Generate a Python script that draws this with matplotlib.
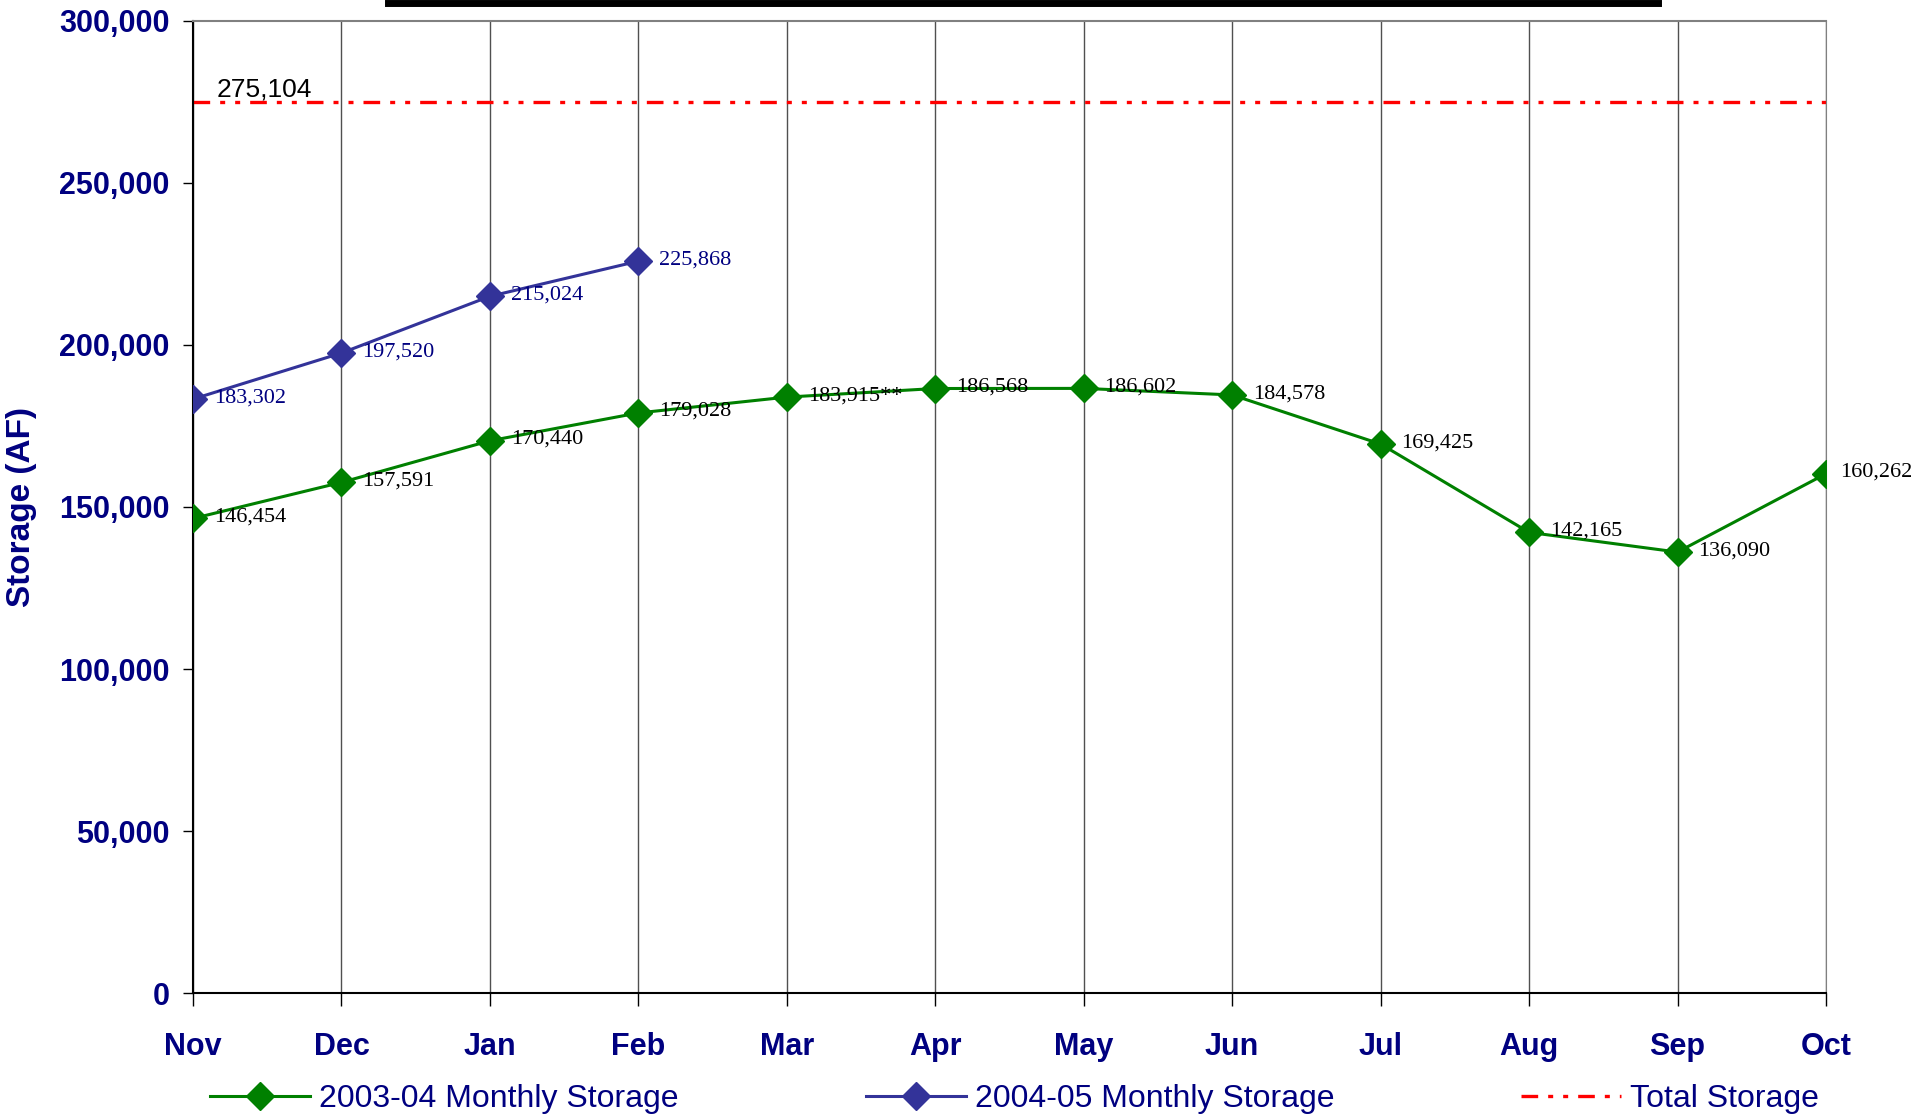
import matplotlib
matplotlib.use('Agg')
import matplotlib.pyplot as plt
from matplotlib.lines import Line2D

months=['Nov','Dec','Jan','Feb','Mar','Apr','May','Jun','Jul','Aug','Sep','Oct']
storage_0304=[146454,157591,170440,179028,183915,186568,186602,184578,169425,142165,136090,160262]
labels_0304=['146,454','157,591','170,440','179,028','183,915**','186,568','186,602','184,578','169,425','142,165','136,090','160,262']
storage_0405=[183302,197520,215024,225868]
labels_0405=['183,302','197,520','215,024','225,868']
total_storage=275104

navy='#000080'
green='#008000'
blue='#333399'

fig=plt.figure(figsize=(19.11,11.15),dpi=100)
ax=fig.add_axes([0.101,0.1094,0.8545,0.8718])

x=list(range(len(months)))
for xi in x:
    ax.axvline(xi,color='#505050',lw=1,zorder=1)

ax.axhline(total_storage,color='red',lw=2.4,ls=(0,(5,3,1.5,3,1.5,3)),zorder=2,label='Total Storage')
l1,=ax.plot(x,storage_0304,color=green,lw=2.2,marker='D',ms=14,zorder=3,label='2003-04 Monthly Storage')
l2,=ax.plot(x[:len(storage_0405)],storage_0405,color=blue,lw=2.2,marker='D',ms=14,zorder=3,label='2004-05 Monthly Storage')

for xi,v,t in zip(x,storage_0304,labels_0304):
    dx=10 if xi==x[-1] else 15
    ax.annotate(t,(xi,v),xytext=(dx,1),textcoords='offset points',va='center',ha='left',
                family='Liberation Serif',fontsize=16,color='black')
for xi,v,t in zip(x,storage_0405,labels_0405):
    ax.annotate(t,(xi,v),xytext=(15,1),textcoords='offset points',va='center',ha='left',
                family='Liberation Serif',fontsize=16,color=navy)
ax.annotate('{:,}'.format(total_storage),(0,total_storage),xytext=(17,4),textcoords='offset points',
            va='baseline',ha='left',family='Liberation Sans',fontsize=19,color='black')

ax.set_xlim(0,len(months)-1)
ax.set_ylim(0,300000)
ax.set_yticks(range(0,300001,50000))
ax.set_yticklabels(['{:,}'.format(v) for v in range(0,300001,50000)])
ax.set_xticks(x)
ax.set_xticklabels(months)
for lab in ax.get_xticklabels()+ax.get_yticklabels():
    lab.set_family('Liberation Sans')
    lab.set_fontweight('bold')
    lab.set_color(navy)
    lab.set_fontsize(22)
ax.tick_params(axis='x',direction='out',length=9,pad=19,width=1)
ax.tick_params(axis='y',direction='out',length=7,pad=10,width=1)

ax.set_ylabel('Storage (AF)',family='Liberation Sans',fontweight='bold',color=navy,fontsize=24)
ax.yaxis.label.set_va('center')
ax.yaxis.set_label_coords(-0.105,0.5)

ax.spines['left'].set_linewidth(1.5)
ax.spines['bottom'].set_linewidth(1.5)
ax.spines['top'].set_color('#808080')
ax.spines['top'].set_linewidth(1.5)
ax.spines['right'].set_color('#808080')

leg_line=Line2D([],[],color='red',lw=2.4,ls=(0,(5,3,1.5,3,1.5,3)))
leg=fig.legend([l1,l2,leg_line],['2003-04 Monthly Storage','2004-05 Monthly Storage','Total Storage'],
               loc='upper left',bbox_to_anchor=(0.1017,0.042),ncol=3,frameon=False,
               handlelength=3.13,handletextpad=0.28,columnspacing=5.85,borderpad=0,
               prop={'family':'Liberation Sans','size':23})
for t in leg.get_texts():
    t.set_color(navy)

# black bar at top (cut-off title)
fig.add_artist(Line2D([388/1911,1658/1911],[1-3/1115,1-3/1115],color='black',lw=5,transform=fig.transFigure))

fig.savefig('out.png',dpi=100)
